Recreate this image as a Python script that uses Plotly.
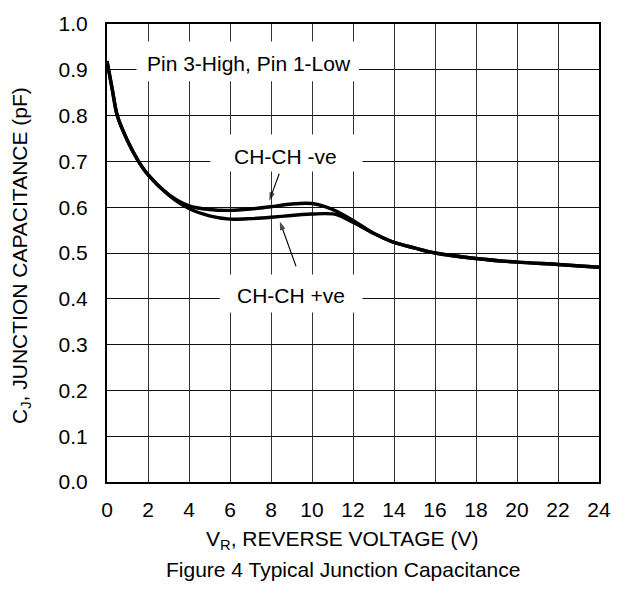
import plotly.graph_objects as go

# Data
v_r = [0, 0.25, 0.5, 1, 1.5, 2, 3, 4, 5, 6, 7, 8, 9, 10, 10.6, 11.2, 12, 13, 14, 15, 16, 18, 20, 22, 24]
cj_neg = [0.919, 0.859, 0.800, 0.745, 0.703, 0.671, 0.628, 0.603, 0.595, 0.593, 0.596, 0.601, 0.607, 0.608,
          0.602, 0.591, 0.571, 0.543, 0.523, 0.511, 0.500, 0.488, 0.480, 0.475, 0.469]
cj_pos = [0.919, 0.859, 0.800, 0.745, 0.703, 0.671, 0.627, 0.597, 0.581, 0.574, 0.575, 0.578, 0.582, 0.585,
          0.586, 0.584, 0.567, 0.543, 0.523, 0.511, 0.500, 0.488, 0.480, 0.475, 0.469]

# pointer arrows (tail -> head) for the two curve labels
arrow_neg_x = [8.40, 7.92]
arrow_neg_y = [0.673, 0.614]
arrow_pos_x = [9.22, 8.43]
arrow_pos_y = [0.471, 0.569]

x_ticks = list(range(0, 25, 2))
y_ticks = [round(i * 0.1, 1) for i in range(11)]
y_tick_text = [f"{v:.1f}" for v in y_ticks]

FONT = "Liberation Sans, Arial, sans-serif"
FS = 21

fig = go.Figure()
for ys in (cj_neg, cj_pos):
    fig.add_trace(go.Scatter(x=v_r, y=ys, mode="lines",
                             line=dict(color="black", width=3.4, shape="spline", smoothing=0.8),
                             showlegend=False, hoverinfo="skip"))

for ax_, ay_ in ((arrow_neg_x, arrow_neg_y), (arrow_pos_x, arrow_pos_y)):
    fig.add_trace(go.Scatter(x=ax_, y=ay_, mode="lines+markers",
                             line=dict(color="black", width=1.1),
                             marker=dict(symbol=["circle", "arrow"], size=[0, 9], angleref="previous",
                                         color="black", line=dict(width=0)),
                             showlegend=False, hoverinfo="skip"))

# white boxes behind labels (cover gridlines)
boxes = [
    (1.44, 12.29, 0.875, 0.962),
    (5.04, 12.46, 0.678, 0.759),
    (5.50, 12.46, 0.370, 0.453),
]
for x0, x1, y0, y1 in boxes:
    fig.add_shape(type="rect", xref="x", yref="y", x0=x0, x1=x1, y0=y0, y1=y1,
                  fillcolor="white", line=dict(width=0), layer="between")

fig.add_annotation(x=6.92, y=0.913, text="Pin 3-High, Pin 1-Low", showarrow=False,
                   font=dict(family=FONT, size=FS, color="black"))
fig.add_annotation(x=8.73, y=0.710, text="CH-CH -ve", showarrow=False,
                   font=dict(family=FONT, size=FS, color="black"))
fig.add_annotation(x=8.98, y=0.407, text="CH-CH +ve", showarrow=False,
                   font=dict(family=FONT, size=FS, color="black"))

# axis titles / caption (pixel positions converted to paper coords)
L, R, T, B = 107, 33, 14, 107
PW, PH = 632 - L - R, 589 - T - B


def px_x(px):
    return (px - L) / PW


def px_y(py):
    return (589 - B - py) / PH


fig.add_annotation(xref="paper", yref="paper", x=px_x(342), y=px_y(541), yanchor="middle",
                   text="V<sub>R</sub>, REVERSE VOLTAGE (V)", showarrow=False,
                   font=dict(family=FONT, size=FS, color="black"))
fig.add_annotation(xref="paper", yref="paper", x=px_x(343), y=px_y(571), yanchor="middle",
                   text="Figure 4 Typical Junction Capacitance", showarrow=False,
                   font=dict(family=FONT, size=FS, color="black"))
fig.add_annotation(xref="paper", yref="paper", x=px_x(21), y=px_y(251), xanchor="center", yanchor="middle",
                   text="C<sub>J</sub>, JUNCTION CAPACITANCE (pF)", showarrow=False, textangle=-90,
                   font=dict(family=FONT, size=FS, color="black"))

axis_common = dict(showgrid=True, gridwidth=1, showline=True, linecolor="black",
                   linewidth=2, mirror=True, zeroline=False, ticks="",
                   tickfont=dict(family=FONT, size=FS, color="black"))

fig.update_xaxes(range=[0, 24], tickvals=x_ticks, ticktext=[str(v) for v in x_ticks],
                 ticklabelstandoff=8, gridcolor="#333", **axis_common)
fig.update_yaxes(range=[0, 1.0], tickvals=y_ticks, ticktext=y_tick_text,
                 ticklabelstandoff=13, gridcolor="#111", **axis_common)

fig.update_layout(width=632, height=589, margin=dict(l=L, r=R, t=T, b=B),
                  paper_bgcolor="white", plot_bgcolor="white", showlegend=False)

fig.write_html("out.html")
